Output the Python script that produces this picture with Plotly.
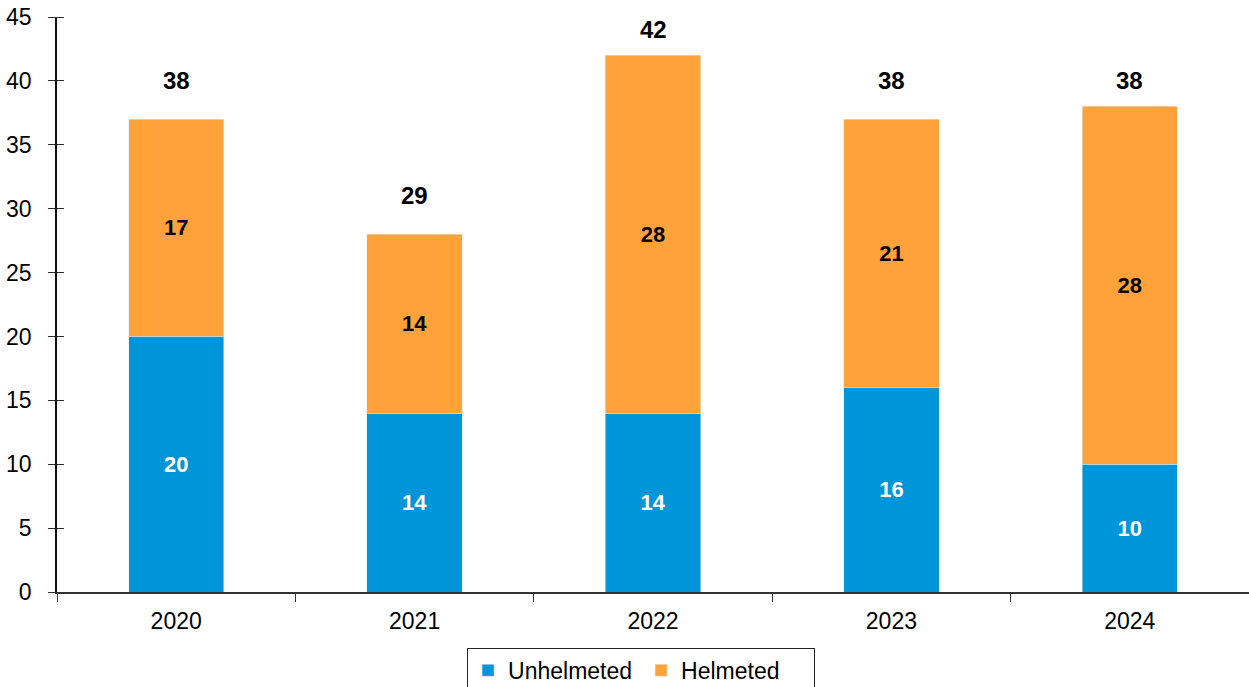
import plotly.graph_objects as go

years = ["2020", "2021", "2022", "2023", "2024"]
unhelmeted = [20, 14, 14, 16, 10]
helmeted = [17, 14, 28, 21, 28]
totals = [38, 29, 42, 38, 38]
y_ticks = [0, 5, 10, 15, 20, 25, 30, 35, 40, 45]

BLUE = "#0094D8"
ORANGE = "#FFA23A"
FONT = "Liberation Sans, Arial, sans-serif"

fig = go.Figure()
fig.add_trace(go.Bar(
    x=years, y=unhelmeted, name="Unhelmeted", marker_color=BLUE,
    text=unhelmeted, textposition="inside", insidetextanchor="middle",
    textangle=0,
    textfont=dict(family=FONT, size=22, color="white"),
    texttemplate="<b>%{y}</b>",
))
fig.add_trace(go.Bar(
    x=years, y=helmeted, name="Helmeted", marker_color=ORANGE,
    text=helmeted, textposition="inside", insidetextanchor="middle",
    textangle=0,
    textfont=dict(family=FONT, size=22, color="black"),
    texttemplate="<b>%{y}</b>",
))

# total labels above bars (x given as category index)
for i, t in enumerate(totals):
    fig.add_annotation(
        x=i, y=t, xref="x", yref="y", text=f"<b>{t}</b>", showarrow=False,
        yshift=26, font=dict(family=FONT, size=24, color="black"),
    )

# inner halves of the crossing y ticks (a hair off the major values so they are drawn)
inner_ticks = [v + 1e-4 for v in y_ticks]

fig.update_layout(
    barmode="stack",
    bargap=0.6,
    width=1249, height=687,
    margin=dict(l=57, r=0, t=17, b=95, autoexpand=False),
    plot_bgcolor="white", paper_bgcolor="white",
    font=dict(family=FONT, size=23, color="black"),
    showlegend=True,
    legend=dict(
        orientation="h", x=0.49, xanchor="center", y=-0.097, yanchor="top",
        bordercolor="#222222", borderwidth=1,
        font=dict(family=FONT, size=23, color="black"),
        traceorder="normal", entrywidth=128,
    ),
    xaxis=dict(
        type="category", range=[-0.5, 4.5], automargin=False,
        showline=True, linecolor="#333333", linewidth=1.5,
        ticks="outside", ticklen=8, tickcolor="#333333",
        tickson="boundaries", showgrid=False, tickangle=0,
        ticklabelstandoff=8,
        tickfont=dict(family=FONT, size=23),
    ),
    yaxis=dict(
        range=[0, 45], tickvals=y_ticks, automargin=False,
        showline=True, linecolor="#111111", linewidth=1.5,
        ticks="outside", ticklen=7, tickcolor="#333333",
        showgrid=False, zeroline=False, ticklabelstandoff=12,
        tickfont=dict(family=FONT, size=23),
        minor=dict(tickvals=inner_ticks, ticks="inside", ticklen=7,
                   tickcolor="#333333", showgrid=False),
    ),
)

fig.write_html("out.html", config={"displayModeBar": False},
               post_script="document.body.style.margin='0';")
